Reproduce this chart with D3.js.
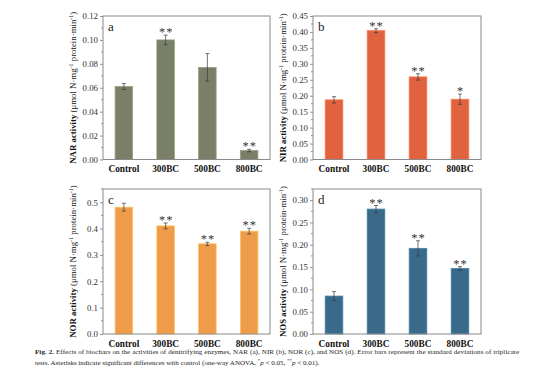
<!DOCTYPE html>
<html><head><meta charset="utf-8">
<script src="https://cdn.jsdelivr.net/npm/d3@7"></script>
<style>
body{margin:0;background:#fff;}
svg{display:block;font-family:"Liberation Serif","Times New Roman",serif;}
</style></head>
<body>
<svg id="chart" width="554" height="379"></svg>
<script>
const categories = ["Control","300BC","500BC","800BC"];
const narValues = [0.061, 0.100, 0.077, 0.0075];
const narErrors = [0.0025, 0.004, 0.0115, 0.001];
const narStars  = ["", "**", "", "**"];
const nirValues = [0.187, 0.404, 0.259, 0.189];
const nirErrors = [0.010, 0.006, 0.010, 0.016];
const nirStars  = ["", "**", "**", "*"];
const norValues = [0.481, 0.410, 0.342, 0.390];
const norErrors = [0.015, 0.011, 0.006, 0.011];
const norStars  = ["", "**", "**", "**"];
const nosValues = [0.085, 0.280, 0.192, 0.147];
const nosErrors = [0.010, 0.008, 0.017, 0.004];
const nosStars  = ["", "**", "**", "**"];
const narTicks = [0,0.02,0.04,0.06,0.08,0.10,0.12];
const nirTicks = [0,0.05,0.10,0.15,0.20,0.25,0.30,0.35,0.40,0.45];
const norTicks = [0,0.1,0.2,0.3,0.4,0.5];
const nosTicks = [0,0.05,0.10,0.15,0.20,0.25,0.30];

const panels = [
  {id:"a", name:"NAR", values:narValues, errors:narErrors, stars:narStars, ticks:narTicks, max:0.12, minor:0.01, fmt:".2f", color:"#7a8067", x0:103, x1:270, y0:16, y1:159.5},
  {id:"b", name:"NIR", values:nirValues, errors:nirErrors, stars:nirStars, ticks:nirTicks, max:0.45, minor:0.025, fmt:".2f", color:"#e0623f", x0:313, x1:481, y0:16, y1:159.5},
  {id:"c", name:"NOR", values:norValues, errors:norErrors, stars:norStars, ticks:norTicks, max:0.55, minor:0.05, fmt:".1f", color:"#ee9c4a", x0:103, x1:270, y0:189, y1:334},
  {id:"d", name:"NOS", values:nosValues, errors:nosErrors, stars:nosStars, ticks:nosTicks, max:0.325, minor:0.025, fmt:".2f", color:"#3a6a8a", x0:313, x1:481, y0:189, y1:334}
];

const svg = d3.select("#chart");

panels.forEach(p => {
  const g = svg.append("g");
  const x = d3.scaleBand().domain(categories).range([p.x0, p.x1]).paddingInner(0.58).paddingOuter(0.29);
  const y = d3.scaleLinear().domain([0, p.max]).range([p.y1, p.y0]);

  const minorTicks = d3.range(0, p.max + 1e-9, p.minor).filter(v => !p.ticks.some(t => Math.abs(t - v) < 1e-9));
  g.selectAll(".minor").data(minorTicks).join("line")
    .attr("x1", p.x0).attr("x2", p.x0 - 2)
    .attr("y1", d => y(d)).attr("y2", d => y(d))
    .attr("stroke", "#777").attr("stroke-width", 0.8);

  const yAxis = g.append("g").attr("transform", `translate(${p.x0},0)`)
    .call(d3.axisLeft(y).tickValues(p.ticks).tickFormat(d3.format(p.fmt)).tickSize(3).tickPadding(2));
  yAxis.select(".domain").remove();
  yAxis.selectAll(".tick line").attr("stroke", "#777").attr("stroke-width", 0.8);
  yAxis.selectAll(".tick text").attr("font-size", 8.8).attr("fill", "#333").attr("font-family", "Liberation Serif");

  const xAxis = g.append("g").attr("transform", `translate(0,${p.y1})`)
    .call(d3.axisBottom(x).tickSize(0).tickPadding(6));
  xAxis.select(".domain").remove();
  xAxis.selectAll(".tick text").attr("font-size", 9.3).attr("font-weight", "bold").attr("fill", "#111").attr("font-family", "Liberation Serif");

  g.selectAll(".bar").data(p.values).join("rect")
    .attr("x", (d, i) => x(categories[i]))
    .attr("width", x.bandwidth())
    .attr("y", d => y(d))
    .attr("height", d => y(0) - y(d))
    .attr("fill", p.color)
    .attr("stroke", d3.color(p.color).brighter(0.6))
    .attr("stroke-width", 0.8);

  const eb = g.selectAll(".err").data(p.values).join("g");
  eb.append("line")
    .attr("x1", (d, i) => x(categories[i]) + x.bandwidth() / 2)
    .attr("x2", (d, i) => x(categories[i]) + x.bandwidth() / 2)
    .attr("y1", (d, i) => y(d - p.errors[i]))
    .attr("y2", (d, i) => y(d + p.errors[i]))
    .attr("stroke", "#3a3a3a").attr("stroke-width", 0.7);
  [1, -1].forEach(s => {
    eb.append("line")
      .attr("x1", (d, i) => x(categories[i]) + x.bandwidth() / 2 - 2)
      .attr("x2", (d, i) => x(categories[i]) + x.bandwidth() / 2 + 2)
      .attr("y1", (d, i) => y(d + s * p.errors[i]))
      .attr("y2", (d, i) => y(d + s * p.errors[i]))
      .attr("stroke", "#3a3a3a").attr("stroke-width", 0.7);
  });

  g.selectAll(".star").data(p.values).join("text")
    .attr("x", (d, i) => x(categories[i]) + x.bandwidth() / 2 + 0.5)
    .attr("y", (d, i) => y(d + p.errors[i]) + 1)
    .attr("text-anchor", "middle")
    .attr("font-size", 12.5).attr("letter-spacing", 1).attr("fill", "#333")
    .attr("font-family", "Liberation Serif")
    .text((d, i) => p.stars[i]);

  g.append("rect").attr("x", p.x0).attr("y", p.y0)
    .attr("width", p.x1 - p.x0).attr("height", p.y1 - p.y0)
    .attr("fill", "none").attr("stroke", "#8a8a8a").attr("stroke-width", 1);

  g.append("text").attr("x", p.x0 + 5).attr("y", p.y0 + 15)
    .attr("font-size", 13).attr("fill", "#222").text(p.id);

  const t = g.append("text")
    .attr("transform", `translate(${p.x0 - 27},${(p.y0 + p.y1) / 2}) rotate(-90)`)
    .attr("text-anchor", "middle").attr("font-size", 8.8).attr("fill", "#111");
  t.append("tspan").attr("font-weight", "bold").text(p.name + " activity ");
  t.append("tspan").text("(μmol N·mg");
  t.append("tspan").attr("font-size", 6).attr("dy", -3.5).text("-1");
  t.append("tspan").attr("dy", 3.5).text(" protein·min");
  t.append("tspan").attr("font-size", 6).attr("dy", -3.5).text("-1");
  t.append("tspan").attr("dy", 3.5).text(")");
});

const cap1 = svg.append("text").attr("x", 35).attr("y", 353.5).attr("font-size", 7).attr("fill", "#222")
  .attr("textLength", 484).attr("lengthAdjust", "spacing");
cap1.append("tspan").attr("font-weight", "bold").text("Fig. 2. ");
cap1.append("tspan").text("Effects of biochars on the activities of denitrifying enzymes, NAR (a), NIR (b), NOR (c), and NOS (d). Error bars represent the standard deviations of triplicate");

const cap2 = svg.append("text").attr("x", 35).attr("y", 364.5).attr("font-size", 7).attr("fill", "#222");
cap2.append("tspan").text("tests. Asterisks indicate significant differences with control (one-way ANOVA, ");
cap2.append("tspan").attr("font-size", 5).attr("dy", -3).text("*");
cap2.append("tspan").attr("dy", 3).attr("font-style", "italic").text("p");
cap2.append("tspan").text(" < 0.05, ");
cap2.append("tspan").attr("font-size", 5).attr("dy", -3).text("**");
cap2.append("tspan").attr("dy", 3).attr("font-style", "italic").text("p");
cap2.append("tspan").text(" < 0.01).");
</script>
</body></html>
